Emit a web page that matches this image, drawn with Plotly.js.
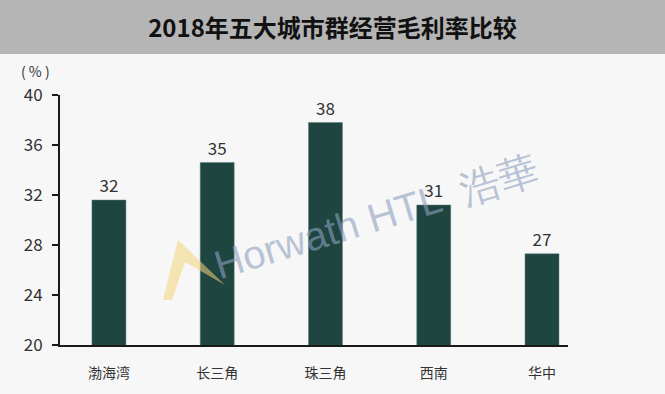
<!DOCTYPE html>
<html>
<head>
<meta charset="utf-8">
<script src="https://cdn.plot.ly/plotly-3.0.1.min.js"></script>
<style>html,body{margin:0;padding:0;background:#f7f7f8;}#chart{width:665px;height:394px;}</style>
</head>
<body>
<div id="chart"></div>
<script>
const categories = ["渤海湾", "长三角", "珠三角", "西南", "华中"];
const values = [31.6, 34.6, 37.8, 31.2, 27.3];
const valueLabels = ["32", "35", "38", "31", "27"];
const yTicks = [20, 24, 28, 32, 36, 40];

const W = 665, H = 394;
const m = {l: 60, r: 97, t: 95, b: 49};
const pw = W - m.l - m.r, ph = H - m.t - m.b;
const px = x => (x - m.l) / pw;
const py = y => 1 - (y - m.t) / ph;

const font = '"Noto Sans CJK SC", "Noto Sans", sans-serif';

const trace = {
  type: 'bar',
  x: categories.map((c, i) => i),
  y: values,
  text: valueLabels,
  textposition: 'outside',
  cliponaxis: false,
  textfont: {size: 17, color: '#333333', family: font},
  marker: {color: '#1f4541', line: {color: '#5f807a', width: 0.5}},
  width: 0.314,
  hoverinfo: 'none'
};

const layout = {
  width: W, height: H,
  margin: m,
  paper_bgcolor: '#f7f7f8',
  plot_bgcolor: '#f7f7f8',
  showlegend: false,
  title: {
    text: '<b>2018年五大城市群经营毛利率比较</b>',
    font: {family: font, size: 24, color: '#111111'},
    x: 0.5, xanchor: 'center', xref: 'container',
    y: 1 - 29 / H, yanchor: 'middle'
  },
  xaxis: {
    range: [-0.452, 4.24],
    tickmode: 'array',
    tickvals: categories.map((c, i) => i),
    ticktext: categories,
    showgrid: false, zeroline: false,
    showline: true, linecolor: '#1a1a1a', linewidth: 2,
    ticks: '',
    ticklabelstandoff: 14,
    tickfont: {family: font, size: 14, color: '#333333'},
    fixedrange: true
  },
  yaxis: {
    range: [20, 40],
    tickmode: 'array',
    tickvals: yTicks,
    showgrid: false, zeroline: false,
    showline: true, linecolor: '#1a1a1a', linewidth: 2,
    ticks: 'outside', ticklen: 6, tickwidth: 2, tickcolor: '#1a1a1a',
    ticklabelstandoff: 6,
    tickfont: {family: font, size: 17, color: '#333333'},
    fixedrange: true
  },
  shapes: [
    {type: 'rect', xref: 'paper', yref: 'paper', layer: 'below',
     x0: px(0), x1: px(W), y0: py(54), y1: py(0),
     fillcolor: '#b5b5b5', line: {width: 0}},
    {type: 'path', xref: 'paper', yref: 'paper', layer: 'above',
     path: `M ${px(163)} ${py(300)} L ${px(178)} ${py(240)} L ${px(225)} ${py(285)} L ${px(185)} ${py(262)} L ${px(172)} ${py(300)} Z`,
     fillcolor: 'rgba(243,214,120,0.55)', line: {width: 0}}
  ],
  annotations: [
    {text: '( % )', xref: 'paper', yref: 'paper', x: px(35), y: py(71),
     xanchor: 'center', yanchor: 'middle', showarrow: false,
     font: {family: font, size: 14, color: '#333333'}},
    {text: 'Horwath HTL  浩華', xref: 'paper', yref: 'paper', x: px(376), y: py(217),
     xanchor: 'center', yanchor: 'middle', showarrow: false, textangle: -17,
     font: {family: '"Liberation Sans", Arial, sans-serif', size: 40, color: 'rgba(140,160,190,0.6)'}}
  ],
  bargap: 0
};

Plotly.newPlot('chart', [trace], layout, {displayModeBar: false, staticPlot: true});
</script>
</body>
</html>
